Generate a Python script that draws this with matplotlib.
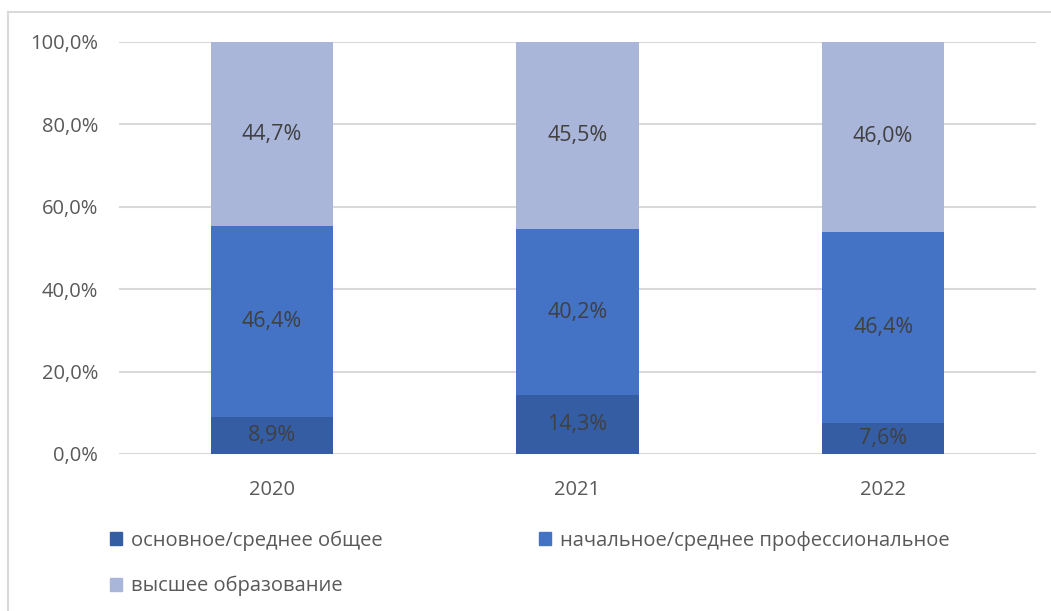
import matplotlib
matplotlib.use("Agg")
import matplotlib.pyplot as plt
import numpy as np
from matplotlib.patches import Patch
from matplotlib.lines import Line2D

categories = ["2020", "2021", "2022"]
series_names = ["основное/среднее общее", "начальное/среднее профессиональное", "высшее образование"]
basic = [8.9, 14.3, 7.6]
vocational = [46.4, 40.2, 46.4]
higher = [44.7, 45.5, 46.0]
yticks = [0, 20, 40, 60, 80, 100]
ytick_labels = ["0,0%", "20,0%", "40,0%", "60,0%", "80,0%", "100,0%"]

colors = ["#355DA3", "#4472C4", "#A9B6DA"]
plt.rcParams['font.family'] = ['Open Sans', 'DejaVu Sans']

fig = plt.figure(figsize=(10.51, 6.11), dpi=100)
ax = fig.add_axes([119/1051, 1 - 454/611, (1036-119)/1051, (454-42)/611])

x = np.arange(len(categories))
width = 0.4
series = [basic, vocational, higher]
bottom = np.zeros(len(categories))
for vals, col, name in zip(series, colors, series_names):
    ax.bar(x, vals, width, bottom=bottom, color=col, label=name, zorder=3)
    for xi, v, b in zip(x, vals, bottom):
        ax.text(xi, b + v / 2, f"{v:.1f}%".replace(".", ","), ha="center", va="center",
                fontsize=15.5, color="#404040", zorder=4)
    bottom = bottom + np.array(vals)

ax.set_xlim(-0.5, 2.5)
ax.set_ylim(0, 100)
ax.set_yticks(yticks)
ax.set_yticklabels(ytick_labels)
ax.set_xticks(x)
ax.set_xticklabels(categories)
ax.tick_params(axis="both", length=0, labelsize=14.5, labelcolor="#595959")
ax.tick_params(axis="y", pad=15)
ax.tick_params(axis="x", pad=19)
ax.grid(axis="y", color="#D9D9D9", linewidth=1.5, zorder=0)
for s in ax.spines.values():
    s.set_visible(False)

# chart border lines (top and left)
fig.add_artist(Line2D([8/1051, 8/1051], [0, 1 - 12/611], transform=fig.transFigure, color="#D9D9D9", lw=1.5))
fig.add_artist(Line2D([8/1051, 1], [1 - 12/611, 1 - 12/611], transform=fig.transFigure, color="#D9D9D9", lw=1.5))

handles = [Patch(color=c) for c in colors]
order = [0, 2, 1]
leg = fig.legend([handles[i] for i in order], [series_names[i] for i in order], ncol=2,
                 loc="upper left", bbox_to_anchor=(94/1051, 1 - 514/611), frameon=False,
                 fontsize=14.5, handlelength=0.6, handleheight=0.6, handletextpad=0.45,
                 columnspacing=7.75, labelspacing=1.25, labelcolor="#595959", borderpad=0.3)

fig.savefig("out.png", dpi=100)
